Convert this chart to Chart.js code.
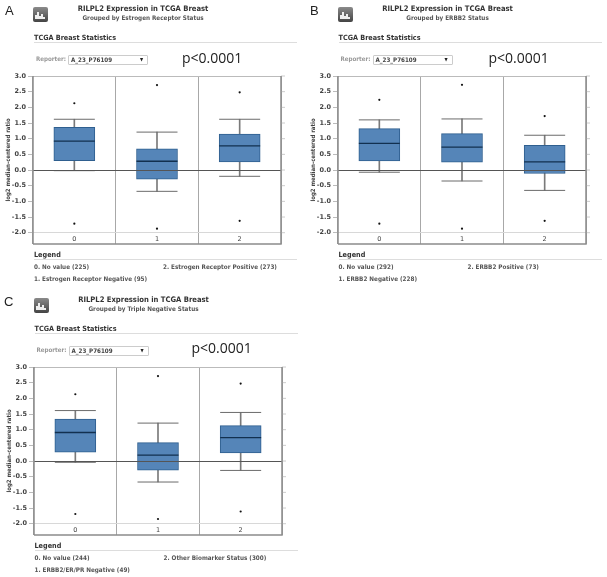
<!DOCTYPE html>
<html>
<head>
<meta charset="utf-8">
<title>RILPL2 Expression in TCGA Breast</title>
<script src="https://cdn.jsdelivr.net/npm/chart.js@4"></script>
<style>
html, body { margin: 0; padding: 0; background: #fff; }
#page { position: relative; width: 607px; height: 577px; overflow: hidden; font-family: "DejaVu Sans Condensed", "DejaVu Sans", sans-serif; filter: blur(0.3px); }
#page div, #page canvas { position: absolute; white-space: nowrap; }
.letter { font: 13px "Liberation Sans", sans-serif; color: #222; }
.title { font-size: 7.6px; font-weight: bold; color: #333; transform: translateX(-50%); }
.sub { font-size: 6.3px; color: #555; transform: translateX(-50%); font-weight: bold; }
.head { font-size: 7.2px; font-weight: bold; color: #333; }
.rule { height: 1px; background: #ddd; }
.rep { font-size: 6.2px; color: #999; font-weight: bold; }
.sel { width: 78px; height: 8px; border: 1px solid #ccc; border-radius: 1px; font-size: 6.2px; line-height: 8px; color: #444; text-indent: 2px; font-weight: bold; }
.arrow { font-size: 4.5px; color: #222; line-height: 8px; }
.p { font: 14px "Open Sans", sans-serif; color: #222; }
.leg { font-size: 6.3px; color: #555; font-weight: bold; }
.icon { width: 15px; height: 15px; border-radius: 2px; background: linear-gradient(#8a8a8a, #444); }
</style>
</head>
<body>
<div id="page"></div>
<script>
const categories = ['0', '1', '2'];
const yAxisTitle = 'log2 median-centered ratio';

const aWhiskerHigh = [1.62, 1.21, 1.62];
const aQ3 = [1.36, 0.68, 1.15];
const aMedian = [0.92, 0.28, 0.77];
const aQ1 = [0.30, -0.29, 0.26];
const aWhiskerLow = [-0.02, -0.68, -0.20];
const aOutHigh = [2.13, 2.71, 2.48];
const aOutLow = [-1.71, -1.87, -1.62];

const bWhiskerHigh = [1.60, 1.63, 1.11];
const bQ3 = [1.32, 1.16, 0.79];
const bMedian = [0.85, 0.73, 0.26];
const bQ1 = [0.29, 0.25, -0.11];
const bWhiskerLow = [-0.07, -0.35, -0.65];
const bOutHigh = [2.24, 2.72, 1.72];
const bOutLow = [-1.71, -1.87, -1.62];

const cWhiskerHigh = [1.61, 1.21, 1.55];
const cQ3 = [1.34, 0.585, 1.13];
const cMedian = [0.91, 0.19, 0.745];
const cQ1 = [0.28, -0.29, 0.255];
const cWhiskerLow = [-0.04, -0.67, -0.30];
const cOutHigh = [2.13, 2.71, 2.47];
const cOutLow = [-1.69, -1.85, -1.61];

const page = document.getElementById('page');

function addText(cls, x, y, text) {
    const el = document.createElement('div');
    el.className = cls;
    el.style.left = x + 'px';
    el.style.top = y + 'px';
    el.textContent = text;
    page.appendChild(el);
    return el;
}

// right hand tick marks and the frame, the axes only give us the left side
const framePlugin = {
    id: 'frame',
    afterDraw(chart) {
        const { ctx, chartArea: a, scales: { y } } = chart;
        ctx.save();
        ctx.strokeStyle = '#ccc';
        ctx.lineWidth = 1;
        y.ticks.forEach(t => {
            const py = y.getPixelForValue(t.value);
            ctx.beginPath();
            ctx.moveTo(a.right, py);
            ctx.lineTo(a.right + 4, py);
            ctx.stroke();
        });
        ctx.strokeStyle = '#bbb';
        ctx.beginPath();
        ctx.moveTo(a.left, a.top + 0.5);
        ctx.lineTo(a.right, a.top + 0.5);
        ctx.stroke();
        ctx.strokeStyle = '#8c8c8c';
        ctx.lineWidth = 1.5;
        ctx.beginPath();
        ctx.moveTo(a.left, a.bottom);
        ctx.lineTo(a.right, a.bottom);
        ctx.lineTo(a.right, a.top);
        ctx.moveTo(a.left, a.bottom);
        ctx.lineTo(a.left, a.top);
        ctx.stroke();
        ctx.restore();
    }
};

function capSet(values) {
    return {
        type: 'line', data: values, showLine: false, order: 2,
        pointStyle: 'line', pointRadius: 20.5, pointBorderWidth: 1, pointBorderColor: '#6b6b6b'
    };
}

function outlierSet(values) {
    return {
        type: 'line', data: values, showLine: false, order: 1,
        pointStyle: 'circle', pointRadius: 1.1, pointBackgroundColor: '#111', pointBorderWidth: 0
    };
}

function drawPlot(ox, oy, s) {
    const canvas = document.createElement('canvas');
    canvas.width = 300;
    canvas.height = 180;
    canvas.style.left = ox + 'px';
    canvas.style.top = oy + 70 + 'px';
    canvas.style.width = '300px';
    canvas.style.height = '180px';
    page.appendChild(canvas);

    new Chart(canvas.getContext('2d'), {
        data: {
            labels: categories,
            datasets: [
                { type: 'bar', data: s.low.map((v, i) => [v, s.high[i]]), grouped: false, order: 5,
                  barThickness: 1, backgroundColor: '#7a7a7a', borderWidth: 0 },
                { type: 'bar', data: s.q1.map((v, i) => [v, s.q3[i]]), grouped: false, order: 4,
                  barThickness: 41, backgroundColor: '#5585b8', borderColor: '#2f5f8f', borderWidth: 1, borderSkipped: false },
                { ...capSet(s.median), order: 3, pointBorderColor: '#12304f', pointBorderWidth: 1.3 },
                capSet(s.high),
                capSet(s.low),
                outlierSet(s.outHigh),
                outlierSet(s.outLow)
            ]
        },
        options: {
            responsive: false,
            animation: false,
            layout: { autoPadding: false, padding: { top: 6, right: 19, bottom: 6, left: 0 } },
            plugins: { legend: { display: false }, tooltip: { enabled: false } },
            scales: {
                x: {
                    type: 'category',
                    offset: true,
                    afterFit: scale => { scale.height = 0; },
                    border: { display: false },
                    grid: { color: '#a8a8a8', drawTicks: false, z: -1 },
                    // mirror keeps the labels inside the plot, they would be clipped otherwise
                    ticks: { color: '#444', font: { family: 'DejaVu Sans', size: 6.5 }, mirror: true, padding: 1, maxRotation: 0 }
                },
                y: {
                    min: -2.36,
                    max: 3,
                    afterFit: scale => { scale.width = 33; },
                    border: { display: false },
                    grid: {
                        z: 1,
                        drawOnChartArea: true,
                        tickLength: 5,
                        tickColor: '#bbb',
                        color: c => c.tick.value === 0 ? '#555' : (c.tick.value === -2 ? '#d8d8d8' : 'transparent')
                    },
                    title: {
                        display: true,
                        text: yAxisTitle,
                        color: '#444',
                        font: { family: 'DejaVu Sans Condensed', size: 6, weight: 'bold' },
                        padding: { top: 5, bottom: 0 }
                    },
                    ticks: {
                        stepSize: 0.5,
                        includeBounds: false,
                        color: '#444',
                        padding: 2,
                        font: { family: 'DejaVu Sans', size: 6.5, weight: 'bold' },
                        callback: v => v.toFixed(1)
                    }
                }
            }
        },
        plugins: [framePlugin]
    });
}

function drawPanel(p) {
    const ox = p.ox, oy = p.oy;
    addText('letter', p.letterX, oy + 3, p.letter);
    const icon = addText('icon', ox + 33, oy + 7, '');
    icon.innerHTML = '<svg width="15" height="15" viewBox="0 0 15 15"><path d="M2 12V8h2V5h2v4h2V7h2v3h2v2z" fill="#eee"/></svg>';
    addText('title', ox + 143, oy + 3.5, 'RILPL2 Expression in TCGA Breast');
    addText('sub', ox + 143, oy + 13.5, p.subtitle);
    addText('head', ox + 34, oy + 33, 'TCGA Breast Statistics');
    addText('rule', ox + 34, oy + 41.5, '').style.width = '263px';
    addText('rep', ox + 36, oy + 55, 'Reporter:');
    addText('sel', ox + 68, oy + 55, 'A_23_P76109');
    addText('arrow', ox + 140, oy + 55.5, '▼');
    addText('p', p.pX, oy + p.pY, 'p<0.0001');
    drawPlot(ox, oy, p.series);
    addText('head', ox + 34, oy + 250, 'Legend');
    addText('rule', ox + 34, oy + 259, '').style.width = '263px';
    addText('leg', ox + 34, oy + 263, p.legend[0]);
    addText('leg', ox + 163, oy + 263, p.legend[2]);
    addText('leg', ox + 34, oy + 275, p.legend[1]);
}

const panels = [
    { letter: 'A', letterX: 5, ox: 0, oy: 0, pX: 182, pY: 48, subtitle: 'Grouped by Estrogen Receptor Status',
      legend: ['0. No value (225)', '1. Estrogen Receptor Negative (95)', '2. Estrogen Receptor Positive (273)'],
      series: { low: aWhiskerLow, q1: aQ1, median: aMedian, q3: aQ3, high: aWhiskerHigh, outHigh: aOutHigh, outLow: aOutLow } },
    { letter: 'B', letterX: 310, ox: 304.5, oy: 0, pX: 488.5, pY: 48, subtitle: 'Grouped by ERBB2 Status',
      legend: ['0. No value (292)', '1. ERBB2 Negative (228)', '2. ERBB2 Positive (73)'],
      series: { low: bWhiskerLow, q1: bQ1, median: bMedian, q3: bQ3, high: bWhiskerHigh, outHigh: bOutHigh, outLow: bOutLow } },
    { letter: 'C', letterX: 4, ox: 0.5, oy: 291, pX: 191.5, pY: 47, subtitle: 'Grouped by Triple Negative Status',
      legend: ['0. No value (244)', '1. ERBB2/ER/PR Negative (49)', '2. Other Biomarker Status (300)'],
      series: { low: cWhiskerLow, q1: cQ1, median: cMedian, q3: cQ3, high: cWhiskerHigh, outHigh: cOutHigh, outLow: cOutLow } }
];

panels.forEach(drawPanel);
</script>
</body>
</html>
